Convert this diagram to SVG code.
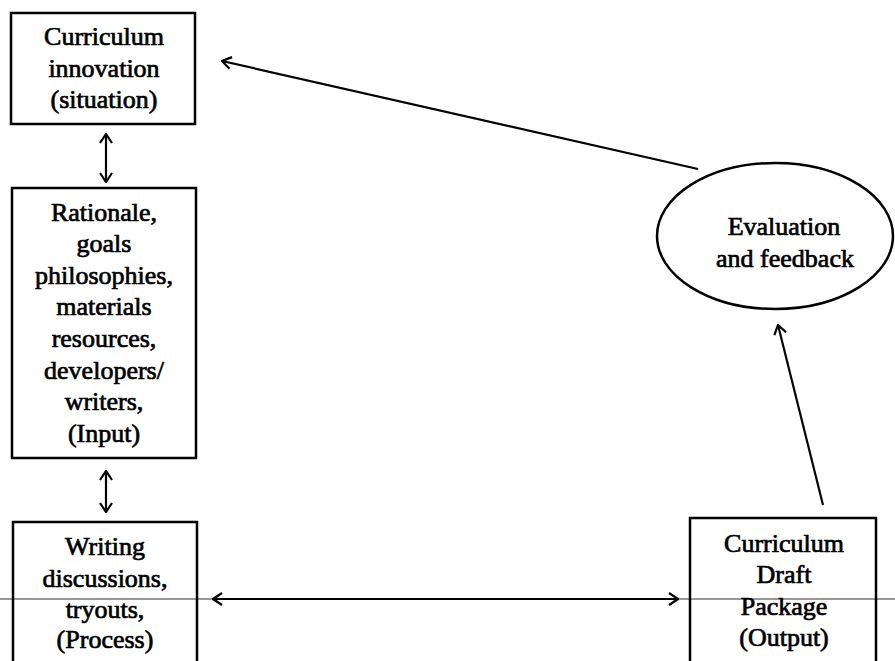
<svg xmlns="http://www.w3.org/2000/svg" width="895" height="661" viewBox="0 0 895 661">
<defs>
<style>
.box{fill:none;stroke:#000;stroke-width:2.5}
.t{font-family:"Liberation Serif","Times New Roman",serif;font-size:26px;fill:#000;stroke:#000;stroke-width:0.7;text-anchor:middle}
.c{fill:none;stroke:#000;stroke-width:2.2}
.thin{fill:none;stroke:#333;stroke-width:1.2}
</style>
<marker id="ah" viewBox="-11 -7 12 14" refX="0" refY="0" markerWidth="12" markerHeight="14" markerUnits="userSpaceOnUse" orient="auto-start-reverse">
<path d="M-9,-6 L0,0 L-9,6" fill="none" stroke="#000" stroke-width="2.2"/>
</marker>
</defs>
<rect width="895" height="661" fill="#fff"/>
<g id="connectors">
<line class="thin" x1="0" y1="599" x2="895" y2="599"/>
<line class="c" x1="106" y1="134" x2="106" y2="182" marker-start="url(#ah)" marker-end="url(#ah)"/>
<line class="c" x1="106" y1="471" x2="106" y2="512" marker-start="url(#ah)" marker-end="url(#ah)"/>
<line class="c" x1="213" y1="599" x2="678" y2="599" marker-start="url(#ah)" marker-end="url(#ah)"/>
<line class="c" x1="698" y1="169" x2="222" y2="61" marker-end="url(#ah)"/>
<line class="c" x1="823" y1="505" x2="778" y2="325" marker-end="url(#ah)"/>
</g>
<g id="innovation">
<rect class="box" x="11" y="13" width="184" height="111"/>
<text class="t" x="104" y="45">Curriculum</text>
<text class="t" x="104" y="77">innovation</text>
<text class="t" x="104" y="108">(situation)</text>
</g>
<g id="input">
<rect class="box" x="12" y="188" width="184" height="270"/>
<text class="t" x="104" y="221">Rationale,</text>
<text class="t" x="104" y="252">goals</text>
<text class="t" x="104" y="284">philosophies,</text>
<text class="t" x="104" y="315">materials</text>
<text class="t" x="104" y="347">resources,</text>
<text class="t" x="104" y="379">developers/</text>
<text class="t" x="104" y="410">writers,</text>
<text class="t" x="104" y="442">(Input)</text>
</g>
<g id="process">
<path class="box" d="M13,663 V522 H197 V663"/>
<text class="t" x="105" y="555">Writing</text>
<text class="t" x="105" y="587">discussions,</text>
<text class="t" x="105" y="618">tryouts,</text>
<text class="t" x="105" y="648">(Process)</text>
</g>
<g id="output">
<path class="box" d="M690,663 V518 H876 V663"/>
<text class="t" x="784" y="552">Curriculum</text>
<text class="t" x="784" y="583">Draft</text>
<text class="t" x="784" y="615">Package</text>
<text class="t" x="784" y="646">(Output)</text>
</g>
<g id="evaluation">
<ellipse class="box" cx="775" cy="236" rx="118" ry="73"/>
<text class="t" x="784" y="235">Evaluation</text>
<text class="t" x="785" y="267">and feedback</text>
</g>
</svg>
